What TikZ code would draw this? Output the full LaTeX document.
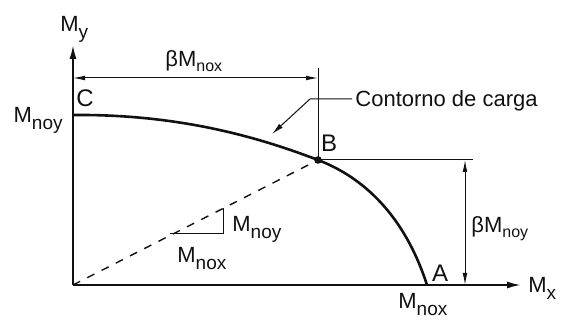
\documentclass[tikz,border=0pt]{standalone}
\usepackage{fontspec}
\setmainfont{Liberation Sans}
\usetikzlibrary{arrows.meta,positioning,calc}
\definecolor{ink}{HTML}{111111}
\newcommand{\lowsub}[1]{\raisebox{-0.55ex}{\fontsize{9.5}{11}\selectfont #1}}
\newcommand{\smallsub}[1]{\raisebox{-0.35ex}{\fontsize{8}{9}\selectfont #1}}
\tikzset{
  >=Latex,
  every node/.style={font=\fontsize{11}{13}\selectfont,text=ink,inner sep=0pt},
  axis/.style={->,line width=0.9pt,draw=ink,>={Latex[length=7pt,width=3.5pt]}},
  contour/.style={line width=1.3pt,draw=ink},
  guide/.style={line width=0.5pt,draw=ink},
  dimline/.style={<->,guide,>={Latex[length=6pt,width=2.4pt]}},
  ray/.style={line width=0.7pt,draw=ink,dash pattern=on 4pt off 4pt},
  leader/.style={->,guide,>={Latex[length=6pt,width=2.6pt]}},
  lbl/.style={anchor=base west},
}

\begin{document}
\begin{tikzpicture}[x=0.5pt,y=0.5pt]
\useasboundingbox (-73,-35) rectangle (488,285);

% axes and main points
\coordinate (O) at (0,0);
\coordinate (ytip) at (0,240);
\coordinate (xtip) at (448,0);
\coordinate (C) at (0,170);
\coordinate (B) at (245,125);
\coordinate (A) at (354,0);

\draw[axis] (O) -- (ytip);
\draw[axis] (O) -- (xtip);
\node[lbl] (my) at (-13,253) {M\lowsub{y}};
\node[lbl] (mx) at (455,-8) {M\lowsub{x}};

% load contour
\draw[contour] (C) .. controls (110,171) and (190,146) .. (B)
  .. controls (292,107) and (332,68) .. (A);
\draw[ray] (O) -- (B);
\fill[ink] (B) circle (1.9pt);

\node (lc) at (12,187) {\fontsize{12}{14}\selectfont C};
\node (lb) at (256,142) {\fontsize{12}{14}\selectfont B};
\node (la) at (367,12) {\fontsize{12}{14}\selectfont A};
\node[anchor=base east] (mnoy) at (-10,162) {M\lowsub{noy}};
\node[lbl] (mnox) at (325,-24) {M\lowsub{nox}};

% beta Mnox dimension
\coordinate (bxL) at (0,207);
\coordinate (bxR) at (245,207);
\coordinate (Btop) at (245,217);
\draw[guide] (B) -- (Btop);
\draw[dimline] (bxR) -- (bxL);
\node[lbl] (bmnox) at (92,218) {βM\smallsub{nox}};

% beta Mnoy dimension
\coordinate (Bh) at (400,125);
\coordinate (byT) at (392,125);
\coordinate (byB) at (392,0);
\draw[guide] (B) -- (Bh);
\draw[dimline] (byT) -- (byB);
\node[lbl] (bmnoy) at (398,52) {βM\smallsub{noy}};

% leader
\node[lbl] (contorno) at (282,178) {Contorno de carga};
\coordinate (leadend) at (279,186);
\coordinate (lead) at (237,186);
\coordinate (tip) at (199,151);
\draw[leader] (leadend) -- (lead) -- (tip);

% slope triangle
\coordinate (t1) at (97,51);
\coordinate (t2) at (150,51);
\coordinate (t3) at (150,77);
\draw[guide] (t1) -- (t2) -- (t3);
\node[lbl] (tnoy) at (159,53) {M\lowsub{noy}};
\node[lbl] (tnox) at (104,22) {M\lowsub{nox}};

\end{tikzpicture}
\end{document}
